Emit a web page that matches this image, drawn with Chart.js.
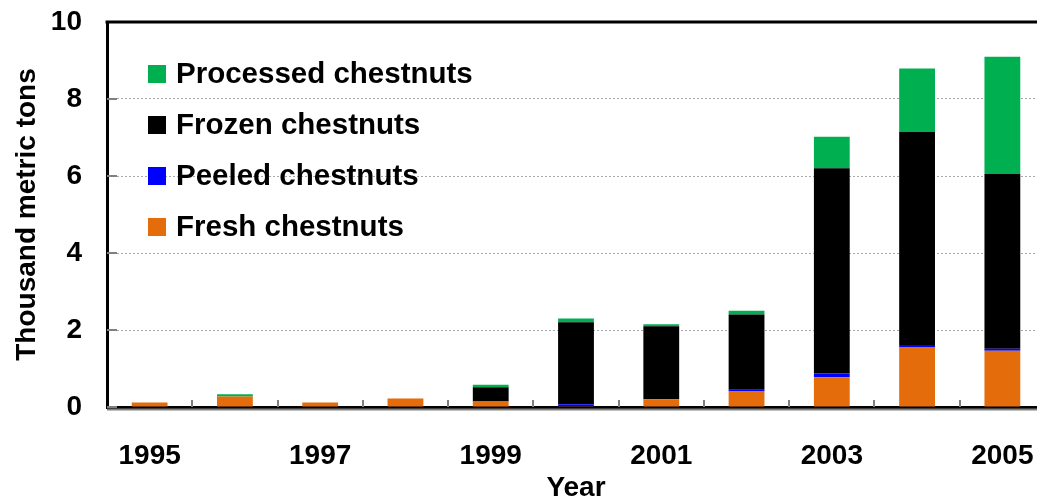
<!DOCTYPE html>
<html>
<head>
<meta charset="utf-8">
<script src="https://cdn.jsdelivr.net/npm/chart.js@4"></script>
<style>
  html, body { margin: 0; padding: 0; background: #fff; overflow: hidden; }
  #chart { display: block; }
</style>
</head>
<body>
<canvas id="chart" width="1050" height="497"></canvas>
<script>
'use strict';

// Chestnut exports, thousand metric tons
const years = ['1995', '1996', '1997', '1998', '1999', '2000', '2001', '2002', '2003', '2004', '2005'];
const fresh = [0.12, 0.27, 0.12, 0.22, 0.14, 0.02, 0.2, 0.4, 0.77, 1.56, 1.46];
const peeled = [0, 0, 0, 0, 0, 0.05, 0, 0.05, 0.1, 0.05, 0.05];
const frozen = [0, 0, 0, 0, 0.37, 2.13, 1.9, 1.95, 5.33, 5.53, 4.54];
const processed = [0, 0.06, 0, 0, 0.07, 0.1, 0.05, 0.1, 0.82, 1.65, 3.05];
const yTicks = [0, 2, 4, 6, 8, 10];

const FONT = "Arial, 'Liberation Sans', sans-serif";

// legend inside the plot + small inward tick marks + top frame line
const chestnutDecor = {
  id: 'chestnutDecor',
  afterDatasetsDraw(chart) {
    const { ctx, chartArea } = chart;
    const x = chart.scales.x;
    const y = chart.scales.y;
    ctx.save();
    ctx.strokeStyle = '#808080';
    ctx.lineWidth = 2;
    // y ticks pointing into the plot
    yTicks.forEach((v) => {
      const py = Math.round(y.getPixelForValue(v));
      ctx.beginPath();
      ctx.moveTo(chartArea.left, py);
      ctx.lineTo(chartArea.left + 10, py);
      ctx.stroke();
    });
    // x ticks between categories
    const half = (x.getPixelForValue(1) - x.getPixelForValue(0)) / 2;
    for (let i = 0; i < years.length; i++) {
      const px = Math.round(x.getPixelForValue(i) + half);
      ctx.beginPath();
      ctx.moveTo(px, chartArea.bottom);
      ctx.lineTo(px, chartArea.bottom - 7);
      ctx.stroke();
    }
    // grey shadow under x axis
    ctx.beginPath();
    ctx.moveTo(chartArea.left, chartArea.bottom + 2.5);
    ctx.lineTo(chartArea.right, chartArea.bottom + 2.5);
    ctx.stroke();
    // top frame
    ctx.strokeStyle = '#000';
    ctx.lineWidth = 3;
    ctx.beginPath();
    ctx.moveTo(chartArea.left - 1.5, chartArea.top);
    ctx.lineTo(chartArea.right, chartArea.top);
    ctx.stroke();

    // legend, top dataset first
    const items = chart.data.datasets.slice().reverse();
    ctx.font = 'bold 29.5px ' + FONT;
    ctx.textBaseline = 'middle';
    ctx.textAlign = 'left';
    items.forEach((ds, i) => {
      const cy = 74 + i * 51;
      ctx.fillStyle = ds.backgroundColor;
      ctx.fillRect(148, cy - 9, 18, 18);
      ctx.fillStyle = '#000';
      ctx.fillText(ds.label, 176, cy + 1);
    });
    ctx.restore();
  },
};

const ctxChart = document.getElementById('chart');

// eslint-disable-next-line no-new,no-undef
new Chart(ctxChart, {
  type: 'bar',
  data: {
    labels: years,
    datasets: [
      { label: 'Fresh chestnuts', data: fresh, backgroundColor: '#E46C0A' },
      { label: 'Peeled chestnuts', data: peeled, backgroundColor: '#0000FF' },
      { label: 'Frozen chestnuts', data: frozen, backgroundColor: '#000000' },
      { label: 'Processed chestnuts', data: processed, backgroundColor: '#00B050' },
    ],
  },
  options: {
    responsive: false,
    animation: false,
    layout: { padding: { top: 22, right: 5, left: 0, bottom: 0 } },
    datasets: {
      bar: { categoryPercentage: 1, barPercentage: 0.42, borderWidth: 0 },
    },
    plugins: {
      legend: { display: false },
      tooltip: { enabled: false },
    },
    scales: {
      x: {
        stacked: true,
        grid: { display: false, drawTicks: false },
        border: { display: true, color: '#000', width: 3 },
        ticks: {
          autoSkip: false,
          maxRotation: 0,
          padding: 32,
          color: '#000',
          font: { family: FONT, size: 28, weight: 'bold' },
          callback: (v, i) => (i % 2 === 0 ? years[i] : ''),
        },
        title: {
          display: true,
          text: 'Year',
          color: '#000',
          font: { family: FONT, size: 28, weight: 'bold' },
          padding: { top: 0, bottom: -8 },
        },
        afterFit: (scale) => {
          scale.height = 90;
          scale.paddingLeft = 0;
          scale.paddingRight = 0;
        },
      },
      y: {
        stacked: true,
        min: 0,
        max: 10,
        grid: { color: '#a8a8a8', lineWidth: 1, drawTicks: false },
        border: { display: true, color: '#000', width: 3, dash: [2, 2] },
        ticks: {
          stepSize: 2,
          padding: 25,
          color: '#000',
          font: { family: FONT, size: 28, weight: 'bold' },
        },
        title: {
          display: true,
          text: 'Thousand metric tons',
          color: '#000',
          font: { family: FONT, size: 28, weight: 'bold' },
          padding: { top: 10, bottom: 0 },
        },
        afterFit: (scale) => {
          scale.width = 107;
          scale.paddingTop = 0;
          scale.paddingBottom = 0;
        },
      },
    },
  },
  plugins: [chestnutDecor],
});
</script>
</body>
</html>
